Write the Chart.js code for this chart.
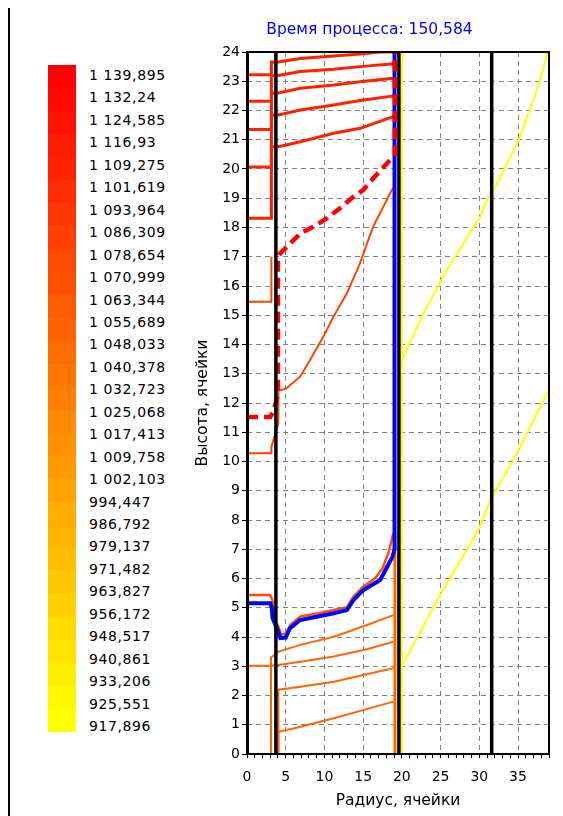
<!DOCTYPE html>
<html><head><meta charset="utf-8">
<script src="https://cdn.jsdelivr.net/npm/chart.js@4.4.0/dist/chart.umd.min.js"></script>
<style>
html,body{margin:0;padding:0;background:#fff;}
#wrap{position:relative;width:563px;height:816px;overflow:hidden;background:#fff;}
#sep{position:absolute;left:8px;top:8px;width:2px;height:808px;background:#000;}
#bar{position:absolute;left:48px;top:65px;width:28px;height:667px;}
.band{position:absolute;left:0;width:28px;}
.lab{position:absolute;left:89px;font-family:'DejaVu Sans';font-size:14px;letter-spacing:0.6px;color:#000;white-space:pre;line-height:16px;transform:translateY(-50%);}
#c{position:absolute;left:190px;top:0;}
</style></head><body>
<div id="wrap"><div id="sep"></div><div id="bar"></div><div id="labels"></div><canvas id="c" width="373" height="816"></canvas></div>
<script>
// ---- legend (temperature scale) ----
const legendValues = ['1 139,895','1 132,24','1 124,585','1 116,93','1 109,275','1 101,619','1 093,964','1 086,309','1 078,654','1 070,999','1 063,344','1 055,689','1 048,033','1 040,378','1 032,723','1 025,068','1 017,413','1 009,758','1 002,103','994,447','986,792','979,137','971,482','963,827','956,172','948,517','940,861','933,206','925,551','917,896'];
const titleText = 'Время процесса: 150,584';
const xTitle = 'Радиус, ячейки';
const yTitle = 'Высота, ячейки';
const xTickLabels = [0,5,10,15,20,25,30,35];

// ---- boundaries (black vertical lines), x in cells ----
const boundaries = [3.73, 19.62, 31.6];

// ---- isolines: [radius, height] ----
const isoRed1 = [[0,23.22],[3.15,23.22],[3.15,23.66],[4.05,23.66],[6.9,23.78],[11.2,23.86],[14.6,23.93],[17.2,24.0],[19.1,24.0]];
const isoRed2 = [[0,22.32],[3.15,22.32],[3.15,23.2],[4.05,23.2],[6.9,23.33],[11.2,23.41],[14.6,23.5],[18.9,23.6],[19.1,23.64]];
const isoRed3 = [[0,21.35],[3.15,21.35],[3.15,22.6],[4.05,22.6],[6.9,22.76],[11.2,22.87],[14.6,22.98],[18.9,23.1],[19.1,23.14]];
const isoRed4 = [[0,20.07],[3.15,20.07],[3.15,21.85],[4.05,21.85],[6.9,22.02],[11.2,22.19],[14.6,22.34],[18.9,22.5],[19.1,22.55]];
const isoRed5 = [[0,18.32],[3.15,18.32],[3.15,20.76],[4.05,20.76],[6.9,20.93],[11.2,21.22],[14.6,21.39],[18.9,21.79],[19.1,21.9]];
const isoDashed = [[0,11.52],[3.0,11.52],[3.4,11.7],[3.7,12.0],[4.0,12.3],[4.0,17.0],[4.3,17.12],[5.6,17.46],[6.9,17.8],[8.6,18.03],[10.3,18.31],[12.0,18.66],[13.75,19.05],[15.0,19.28],[16.3,19.68],[18.1,20.2],[19.1,20.48],[19.1,24]];
const isoMid1 = [[0,15.46],[3.15,15.46],[3.15,17.0]];
const isoMid2 = [[0,10.28],[3.15,10.28],[3.15,10.5],[4.05,11.3],[4.05,12.44],[4.3,12.44],[5.1,12.5],[6.86,12.9],[8.15,13.47],[9.87,14.27],[11.16,14.95],[12.9,15.75],[14.6,16.78],[15.5,17.46],[16.3,18.03],[17.6,18.71],[18.7,19.28],[19.0,19.4]];
const isoFront = [[0,5.44],[3.0,5.44],[3.3,5.25],[3.4,4.7],[4.05,4.35],[4.4,4.08],[5.0,4.12],[5.6,4.42],[6.9,4.7],[9.0,4.8],[11.2,4.92],[12.9,5.02],[13.75,5.38],[15.0,5.72],[16.5,6.0],[17.5,6.35],[18.3,6.9],[18.9,7.55]];
const meltFront = [[0,5.15],[3.0,5.15],[3.2,5.0],[3.3,4.65],[4.05,4.18],[4.3,3.96],[5.0,3.98],[5.56,4.3],[6.86,4.58],[9.0,4.69],[11.2,4.81],[12.9,4.92],[13.75,5.26],[15.0,5.6],[17.2,5.95],[18.1,6.4],[18.8,6.75],[19.05,7.0],[19.05,24]];
const isoLow1 = [[3.1,0],[3.1,3.3],[4.05,3.5],[6.9,3.73],[11.2,4.01],[15.5,4.41],[18.9,4.75]];
const isoLow2 = [[0,3.02],[3.1,3.02],[4.05,3.04],[6.9,3.15],[11.2,3.33],[15.5,3.58],[18.9,3.84]];
const isoLow3 = [[4.05,0],[4.05,2.2],[6.9,2.3],[11.2,2.47],[15.0,2.7],[18.9,2.93]];
const isoLow4 = [[4.05,0],[4.05,0.76],[6.4,0.9],[11.2,1.22],[15.0,1.5],[18.9,1.79]];
const isoEdge = [[19.1,0],[19.1,7.6]];
const isoYellowEdge = [[20.0,0],[20.0,24]];
const isoYellow1 = [[20.0,2.98],[24.1,5.04],[30.1,7.77],[31.4,8.68],[34.9,10.28],[38.3,12.1],[39,12.45]];
const isoYellow2 = [[20.0,13.47],[22.8,15.07],[25.8,16.55],[30.1,18.37],[31.0,18.94],[32.1,19.4],[35.1,21.0],[37.9,23.04],[38.8,24.0]];
const isoYellow3 = [[20.0,23.75],[20.4,24.1]];

// ---- legend drawing ----
(function(){
  const bar = document.getElementById('bar');
  const n = legendValues.length - 1;
  const H = 667;
  for (let i = 0; i < n; i++) {
    const d = document.createElement('div');
    d.className = 'band';
    const t = Math.round(i * H / n), b = Math.round((i + 1) * H / n);
    d.style.top = t + 'px'; d.style.height = (b - t) + 'px';
    const g = Math.round(255 * i / (n - 1));
    d.style.background = 'rgb(255,' + g + ',0)';
    bar.appendChild(d);
  }
  const labs = document.getElementById('labels');
  legendValues.forEach((v, i) => {
    const s = document.createElement('div');
    s.className = 'lab';
    s.textContent = v;
    s.style.top = (75 + i * 22.45) + 'px';
    labs.appendChild(s);
  });
})();

const pts = a => a.map(p => ({x: p[0], y: p[1]}));
function ds(points, color, width, order, dash) {
  return {data: pts(points), borderColor: color, borderWidth: width, showLine: true, pointRadius: 0,
    fill: false, tension: 0, order: order, borderDash: dash || [], borderCapStyle: 'butt', borderJoinStyle: 'miter'};
}
const datasets = [];
boundaries.forEach(b => datasets.push(ds([[b,0],[b,24]], '#000000', 3.5, 0)));
datasets.push(ds(isoDashed, '#ff0000', 4.5, 1, [11, 6]));
datasets.push(ds(meltFront, '#0000ff', 4, 2));
[isoRed1, isoRed2, isoRed3, isoRed4, isoRed5].forEach(a => datasets.push(ds(a, '#ff2000', 3, 3)));
datasets.push(ds(isoFront, '#ff4d00', 2.5, 3));
datasets.push(ds(isoMid1, '#ff4400', 2, 4));
datasets.push(ds(isoMid2, '#ff4400', 2, 4));
[isoLow1, isoLow2, isoLow3, isoLow4].forEach(a => datasets.push(ds(a, '#ff6600', 2, 4)));
datasets.push(ds(isoEdge, '#ff6a00', 3, 4));
datasets.push(ds(isoYellowEdge, '#ffff00', 2, 5));
[isoYellow1, isoYellow2, isoYellow3].forEach(a => datasets.push(ds(a, '#ffff00', 2, 5)));

const frame = {id: 'frame', afterDatasetsDraw(chart) {
  const {ctx, chartArea: a} = chart;
  ctx.save();
  ctx.strokeStyle = '#000'; ctx.lineWidth = 2; ctx.setLineDash([]);
  ctx.strokeRect(a.left, a.top, a.right - a.left, a.bottom - a.top);
  ctx.lineWidth = 3;
  ctx.beginPath(); ctx.moveTo(a.left + 0.5, a.top); ctx.lineTo(a.left + 0.5, a.bottom); ctx.stroke();
  ctx.restore();
}};

const F = {family: 'DejaVu Sans', size: 14};
const FT = {family: 'DejaVu Sans', size: 15.5};
new Chart(document.getElementById('c'), {
  type: 'scatter',
  data: {datasets},
  options: {
    responsive: false, animation: false, events: [],
    layout: {padding: {left: 0, right: 14, top: 0, bottom: 0}},
    plugins: {
      legend: {display: false}, tooltip: {enabled: false},
      title: {display: true, text: titleText, color: '#0000ff', font: {family: 'DejaVu Sans', size: 15.5, weight: 'normal'}, padding: {top: 20.7, bottom: 12.7}}
    },
    scales: {
      x: {type: 'linear', min: 0, max: 39,
        afterFit(s) { s.height = 62; },
        ticks: {stepSize: 1, autoSkip: false, maxRotation: 0, color: '#000', font: F, padding: 11,
          callback: v => xTickLabels.includes(v) ? String(v) : ''},
        grid: {color: c => (c.tick && c.tick.value % 5 === 0 && c.tick.value > 0) ? '#808080' : 'rgba(0,0,0,0)', lineWidth: 1,
          tickColor: '#000', tickLength: 4, drawTicks: true},
        border: {display: false, dash: [5, 4]},
        title: {display: true, text: xTitle, color: '#000', font: FT, padding: {top: 0, bottom: 6}}
      },
      y: {type: 'linear', min: 0, max: 24,
        afterFit(s) { s.width = 57; },
        ticks: {stepSize: 1, autoSkip: false, color: '#000', font: F, padding: 2},
        grid: {color: c => (c.tick && c.tick.value > 0 && c.tick.value < 24) ? '#808080' : 'rgba(0,0,0,0)', lineWidth: 1,
          tickColor: '#000', tickLength: 5, drawTicks: true},
        border: {display: false, dash: [5, 4]},
        title: {display: true, text: yTitle, color: '#000', font: FT, padding: {top: 4, bottom: 0}}
      }
    }
  },
  plugins: [frame]
});
</script>
</body></html>
